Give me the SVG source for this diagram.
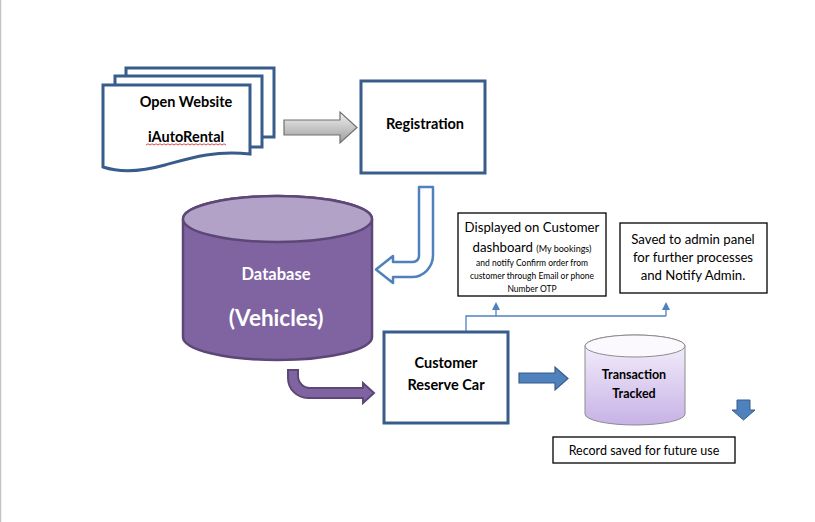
<svg xmlns="http://www.w3.org/2000/svg" width="815" height="522" viewBox="0 0 815 522">
<style>
text{font-family:Lato,"Open Sans","Liberation Sans",sans-serif;fill:#000}
.b{font-weight:bold}
.doc{fill:#fff;stroke:#385d8a;stroke-width:3}
.box{fill:#fff;stroke:#385d8a;stroke-width:3}
.note{fill:#fff;stroke:#000;stroke-width:1.3}
.thin{fill:none;stroke:#4f81bd;stroke-width:1.3}
</style>
<defs>
<linearGradient id="gg" x1="0" y1="0" x2="0" y2="1"><stop offset="0" stop-color="#f0f0f0"/><stop offset="1" stop-color="#9e9e9e"/></linearGradient>
<linearGradient id="lav" x1="0" y1="0" x2="0" y2="1"><stop offset="0" stop-color="#f7f3fd"/><stop offset="1" stop-color="#c7b2e6"/></linearGradient>
<marker id="ah" markerWidth="8" markerHeight="8" refX="4" refY="4" orient="auto" markerUnits="userSpaceOnUse"><path d="M0,0 L8,4 L0,8 Z" fill="#4f81bd"/></marker>
</defs>
<rect x="0" y="0" width="815" height="522" fill="#fff"/>
<line x1="0.5" y1="0" x2="0.5" y2="522" stroke="#c4c4c4" stroke-width="1.5"/>

<g id="connectors">
<polygon points="284,120 340,120 340,112 357,127.5 340,143 340,135 284,135" fill="url(#gg)" stroke="#707070" stroke-width="1.2"/>
<path d="M419,187 H433 V255 A21,22 0 0 1 412,277 H393 V283 L376,269.5 L393,256 V262 H413 A6,6 0 0 0 419,256 Z" fill="#fff" stroke="#4f81bd" stroke-width="2.5" stroke-linejoin="round"/>
<path d="M288,370 H298 V376 A12,12 0 0 0 310,388 H363 V383 L374,393 L363,403 V398 H308 A20,20 0 0 1 288,378 Z" fill="#8064a2" stroke="#5c4776" stroke-width="2"/>
<polygon points="519,373 555,373 555,367 568,378.5 555,390 555,383 519,383" fill="#4f81bd" stroke="#385d8a" stroke-width="1.2"/>
<polygon points="737,400 750,400 750,410 755,410 743.5,420 732,410 737,410" fill="#4f81bd" stroke="#385d8a" stroke-width="1"/>
<path class="thin" d="M466,331 V316 H666"/>
<line class="thin" x1="496" y1="316" x2="496" y2="306" marker-end="url(#ah)"/>
<line class="thin" x1="666" y1="316" x2="666" y2="306" marker-end="url(#ah)"/>
</g>

<g id="open-website">
<rect class="doc" x="126" y="68" width="148" height="69"/>
<rect class="doc" x="115" y="76" width="147" height="71"/>
<path class="doc" d="M103,85 H250 V154 C215,150 190,158 165,165 C140,172 118,172 103,167 Z"/>
<text class="b" x="186" y="107" font-size="14.5" text-anchor="middle">Open Website</text>
<text class="b" x="186" y="142" font-size="14.5" text-anchor="middle">iAutoRental</text>
<path d="M146,145 l2,-1.2 l2,1.2 l2,-1.2 l2,1.2 l2,-1.2 l2,1.2 l2,-1.2 l2,1.2 l2,-1.2 l2,1.2 l2,-1.2 l2,1.2 l2,-1.2 l2,1.2 l2,-1.2 l2,1.2 l2,-1.2 l2,1.2 l2,-1.2 l2,1.2 l2,-1.2 l2,1.2 l2,-1.2 l2,1.2 l2,-1.2 l2,1.2 l2,-1.2 l2,1.2 l2,-1.2 l2,1.2 l2,-1.2 l2,1.2 l2,-1.2 l2,1.2 l2,-1.2 l2,1.2 l2,-1.2 l2,1.2 l2,-1.2 l2,1.2" fill="none" stroke="#d02020" stroke-width="0.8"/>
</g>

<g id="registration">
<rect class="box" x="361" y="81" width="124" height="92"/>
<text class="b" x="425" y="129" font-size="14.5" text-anchor="middle">Registration</text>
</g>

<g id="database">
<path d="M183,219 A94.5,23 0 0 1 372,219 V337 A94.5,23 0 0 1 183,337 Z" fill="#8064a2" stroke="#5c4776" stroke-width="2.5"/>
<ellipse cx="277.5" cy="219" rx="94.5" ry="23" fill="#b3a2c7" stroke="#5c4776" stroke-width="2.5"/>
<text class="b" x="276" y="280" font-size="16.5" text-anchor="middle" style="fill:#fff">Database</text>
<text class="b" x="276" y="326" font-size="22.5" text-anchor="middle" style="fill:#fff">(Vehicles)</text>
</g>

<g id="customer-reserve">
<rect class="box" x="384" y="332" width="124" height="91"/>
<text class="b" x="446" y="368" font-size="14.5" text-anchor="middle">Customer</text>
<text class="b" x="446" y="390" font-size="14.5" text-anchor="middle">Reserve Car</text>
</g>

<g id="transaction">
<path d="M585,346 A50,11 0 0 1 685,346 V414 A50,11 0 0 1 585,414 Z" fill="url(#lav)" stroke="#8c8c8c" stroke-width="1"/>
<ellipse cx="635" cy="346" rx="50" ry="11" fill="#fbf9fe" stroke="#8c8c8c" stroke-width="1"/>
<text class="b" x="634" y="379" font-size="12.5" text-anchor="middle">Transaction</text>
<text class="b" x="634" y="398" font-size="12.5" text-anchor="middle">Tracked</text>
</g>

<g id="customer-dashboard">
<rect class="note" x="458" y="213" width="148" height="83"/>
<text x="532" y="232" font-size="13.2" text-anchor="middle">Displayed on Customer</text>
<text x="532" y="252" font-size="13.2" text-anchor="middle">dashboard <tspan font-size="9">(My bookings)</tspan></text>
<text x="532" y="266" font-size="8.5" text-anchor="middle">and notify Confirm order from</text>
<text x="532" y="279" font-size="8.5" text-anchor="middle">customer through Email or phone</text>
<text x="532" y="292" font-size="8.5" text-anchor="middle">Number OTP</text>
</g>

<g id="admin-panel">
<rect class="note" x="620" y="223" width="147" height="70"/>
<text x="693" y="244" font-size="13.2" text-anchor="middle">Saved to admin panel</text>
<text x="693" y="262" font-size="13.2" text-anchor="middle">for further processes</text>
<text x="693" y="280" font-size="13.2" text-anchor="middle">and Notify Admin.</text>
</g>

<g id="record">
<rect class="note" x="553" y="437" width="182" height="26"/>
<text x="644" y="455" font-size="12.5" text-anchor="middle">Record saved for future use</text>
</g>
</svg>
